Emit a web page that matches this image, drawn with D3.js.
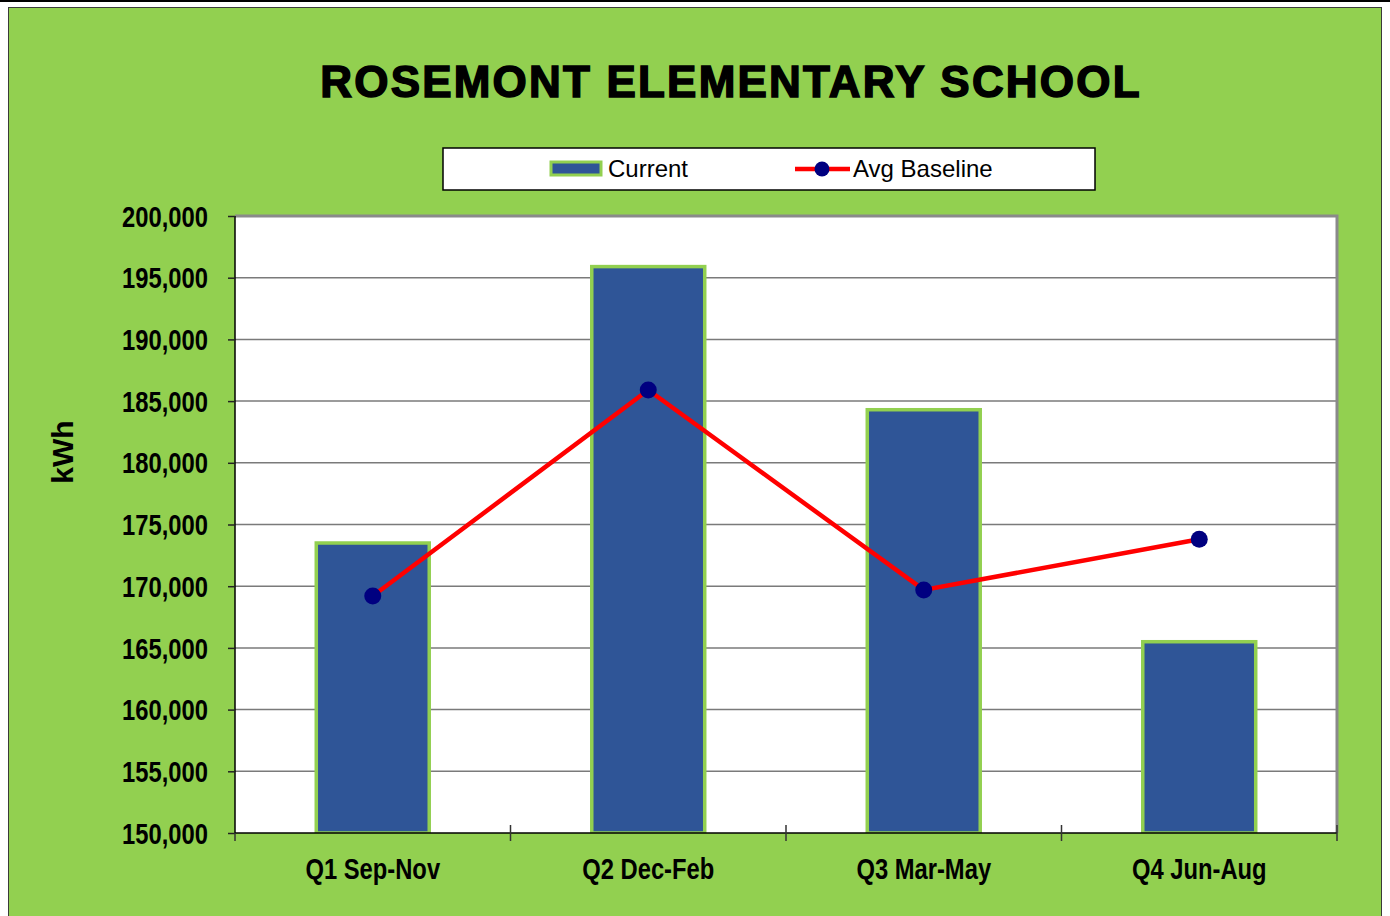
<!DOCTYPE html>
<html><head><meta charset="utf-8">
<script src="https://cdn.jsdelivr.net/npm/d3@7"></script>
<style>body{margin:0;background:#fff}svg{display:block}</style>
</head><body>
<svg id="c" width="1390" height="916"></svg>
<script>
const categories = ["Q1 Sep-Nov", "Q2 Dec-Feb", "Q3 Mar-May", "Q4 Jun-Aug"];
const currentValues = [173500, 195900, 184300, 165500];
const baselineValues = [169200, 185900, 169700, 173800];
const yTicks = [150000,155000,160000,165000,170000,175000,180000,185000,190000,195000,200000];
const seriesNames = ["Current", "Avg Baseline"];
const titleText = "ROSEMONT ELEMENTARY SCHOOL";
const yTitle = "kWh";

const svg = d3.select("#c");
const sans = "'Liberation Sans',Arial,sans-serif";
const squeeze = 0.82;

// frame
svg.append("rect").attr("x",0).attr("y",0).attr("width",1390).attr("height",2).attr("fill","#000");
svg.append("rect").attr("x",8.5).attr("y",7.5).attr("width",1373).attr("height",920)
  .attr("fill","#92D050").attr("stroke","#3a3a3a").attr("stroke-width",1);

const L=235,R=1337,T=216,B=833;
const x = d3.scaleBand().domain(categories).range([L,R]).paddingInner(0.59).paddingOuter(0.295);
const y = d3.scaleLinear().domain([150000,200000]).range([B,T]);

// plot area
svg.append("rect").attr("x",L).attr("y",T).attr("width",R-L).attr("height",B-T).attr("fill","#fff");
svg.append("g").selectAll("line").data(yTicks.slice(1)).join("line")
  .attr("x1",L).attr("x2",R).attr("y1",d=>y(d)).attr("y2",d=>y(d))
  .attr("stroke","#7a7a7a").attr("stroke-width",1.5);
svg.append("path").attr("d",`M${L},${T}H${R}V${B}`).attr("fill","none").attr("stroke","#8a8a8a").attr("stroke-width",3);

// bars
svg.append("g").selectAll("rect").data(categories).join("rect")
  .attr("x",d=>x(d)).attr("width",x.bandwidth())
  .attr("y",(d,i)=>y(currentValues[i])).attr("height",(d,i)=>B-y(currentValues[i]))
  .attr("fill","#2F5597").attr("stroke","#92D050").attr("stroke-width",3.5);

// y axis
const yAxis = d3.axisLeft(y).tickValues(yTicks).tickSize(7).tickFormat(d3.format(","));
const gy = svg.append("g").attr("transform",`translate(${L},0)`).call(yAxis);
gy.select(".domain").attr("stroke","#000").attr("stroke-width",1.5).attr("d",`M0,${T}V${B}`);
gy.selectAll(".tick line").attr("stroke","#222").attr("stroke-width",1.5);
gy.selectAll(".tick text").attr("x",0).attr("transform",`translate(-27,0) scale(${squeeze},1)`)
  .attr("font-family",sans).attr("font-weight","bold")
  .attr("font-size",29).attr("fill","#000").attr("dy","0.35em");

// x axis
const xAxis = d3.axisBottom(x).tickSize(0).tickPadding(0);
const gx = svg.append("g").attr("transform",`translate(0,${B})`).call(xAxis);
gx.select(".domain").attr("stroke","#000").attr("stroke-width",1.5).attr("d",`M${L},0H${R}`);
gx.selectAll(".tick text").attr("y",36).attr("dy","0.35em").attr("transform",`scale(${squeeze},1)`)
  .attr("font-family",sans).attr("font-weight","bold").attr("font-size",29).attr("fill","#000");
const bounds = categories.map(c=>x(c)-x.step()*x.paddingInner()/2).concat([R]);
bounds[0]=L;
svg.append("g").selectAll("line").data(bounds).join("line")
  .attr("x1",d=>d).attr("x2",d=>d).attr("y1",(d,i)=>i===0?B:B-8).attr("y2",B+8)
  .attr("stroke","#333").attr("stroke-width",1.5);

// line
const cx = c=>x(c)+x.bandwidth()/2;
svg.append("path").datum(baselineValues)
  .attr("d",d3.line().x((d,i)=>cx(categories[i])).y(d=>y(d)))
  .attr("fill","none").attr("stroke","#FF0000").attr("stroke-width",4.5);
svg.append("g").selectAll("circle").data(baselineValues).join("circle")
  .attr("cx",(d,i)=>cx(categories[i])).attr("cy",d=>y(d)).attr("r",8.5).attr("fill","#000080");

// title
svg.append("text").attr("x",731).attr("y",97).attr("text-anchor","middle")
  .attr("font-family",sans).attr("font-weight","bold").attr("font-size",44)
  .attr("letter-spacing",2.2).attr("stroke","#000").attr("stroke-width",1.5)
  .attr("fill","#000").text(titleText);

// y title
svg.append("text").attr("transform","translate(73,452) rotate(-90)").attr("text-anchor","middle")
  .attr("font-family",sans).attr("font-weight","bold").attr("font-size",30).attr("fill","#000").text(yTitle);

// legend
svg.append("rect").attr("x",443).attr("y",148).attr("width",652).attr("height",42)
  .attr("fill","#fff").attr("stroke","#000").attr("stroke-width",1.5);
svg.append("rect").attr("x",551).attr("y",162).attr("width",50).attr("height",13)
  .attr("fill","#2F5597").attr("stroke","#92D050").attr("stroke-width",3);
svg.append("text").attr("x",608).attr("y",177).attr("font-family",sans).attr("font-size",24).attr("fill","#000").text(seriesNames[0]);
svg.append("line").attr("x1",795).attr("x2",850).attr("y1",169).attr("y2",169).attr("stroke","#FF0000").attr("stroke-width",4.5);
svg.append("circle").attr("cx",822).attr("cy",169).attr("r",7.5).attr("fill","#000080");
svg.append("text").attr("x",853).attr("y",177).attr("font-family",sans).attr("font-size",24).attr("fill","#000").text(seriesNames[1]);
</script>
</body></html>
